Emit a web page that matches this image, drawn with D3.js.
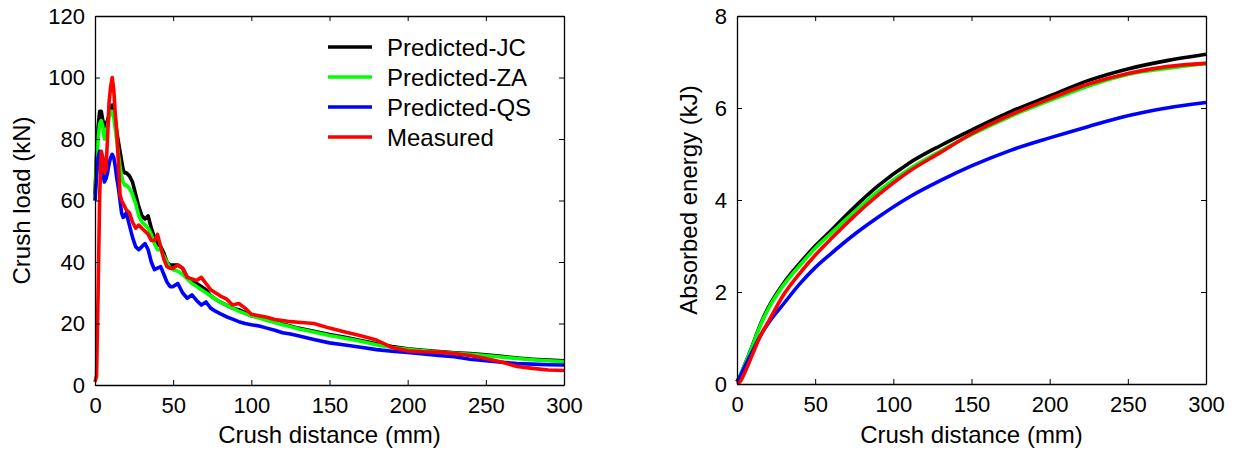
<!DOCTYPE html>
<html>
<head>
<meta charset="utf-8">
<script src="https://cdnjs.cloudflare.com/ajax/libs/d3/7.8.5/d3.min.js"></script>
<style>
  body { margin: 0; background: #fff; }
  text { font-family: "Liberation Sans", Arial, sans-serif; }
</style>
</head>
<body>
<svg id="chart" width="1239" height="453"></svg>
<script>
// ---------- DATA ----------
const seriesNames = ["Predicted-JC", "Predicted-ZA", "Predicted-QS", "Measured"];
const seriesColors = ["#000000", "#00ff00", "#0000ff", "#ff0000"];

const xTicks = [0, 50, 100, 150, 200, 250, 300];
const loadTicks = [0, 20, 40, 60, 80, 100, 120];
const energyTicks = [0, 2, 4, 6, 8];

// Crush load (kN) vs crush distance (mm)
const loadDist = [0,1,2,3,4,5,6,7,8,9,10,11,12,13,14,15,16,17,18,19,20,
  22,24,26,28,30,32,34,36,38,40,42,44,46,48,50,
  53,56,59,62,65,68,71,74,77,80,84,88,92,96,100,
  105,110,115,120,125,130,140,150,160,170,180,190,200,210,220,230,240,250,260,270,280,290,300];

const loadJC = [62,75,84,89,89,86,84,85,86,88,90,91,89,86,82,79,76,73,70,69,69,
  68,66,62,58,55,54,55,51,48,46,45,43,40,39,39,
  39,38,35,34,33,32,31,29,28,27,26,25,24.5,23.5,22.5,
  22,21.2,20.5,19.8,19.2,18.5,17.5,16.4,15.5,14.5,13.4,12.5,11.8,11.3,10.9,10.5,10.2,9.8,9.3,8.8,8.4,8.1,7.9];

const loadZA = [60,72,80,85,86,84,80,82,84,87,89,89,87,83,79,75,71,68,66,65,65,
  64,62,59,55,53,52,51,49,46,44,44,42,40,38,37.5,
  37,36,34.5,33,32,31,30,29,28,27,26,25,24,23.2,22.5,
  21.8,21,20.3,19.6,19,18.3,17.2,16.1,15.2,14.2,13.1,12.2,11.6,11.1,10.7,10.3,10.0,9.6,9.1,8.6,8.2,7.9,7.6];

const loadQS = [60,68,74,76,73,69,66,67,69,72,74,75,74,71,67,64,60,56,54.5,55,56,
  52,48,45,44,45,46,44,40,37.5,38,38.5,36,33.5,32,32,
  33,30,28.2,29.3,27.5,26,27,25,24,23.2,22.2,21.4,20.6,20,19.6,
  19.2,18.5,17.8,17,16.6,16,14.8,13.7,13,12.3,11.5,11,10.6,10.1,9.6,9.2,8.4,7.9,7.4,7,6.8,6.6,6.5];

const loadMeasured = [1,3,30,62,76,74,69,70,80,92,97,100,96,88,82,72,62,60,59,58,57,
  56,53,51,52,51,50,49,47,47,49,45,41,38.5,38,38,
  39,38,35,34.5,34,35,33,31,30,29,28,26,26.5,25,23,
  22.5,22,21.3,21,20.6,20.4,20,18.5,17.2,16,14.6,12.2,11.1,10.8,10.7,10.2,9.6,8.6,7.5,6,5.4,4.9,4.7];

// Absorbed energy (kJ) vs crush distance (mm)
const energyDist = [0,2,5,10,15,20,30,40,50,60,75,90,110,130,150,175,200,225,250,275,300];
const energyJC = [0.05,0.18,0.42,0.85,1.30,1.66,2.20,2.62,3.00,3.33,3.84,4.30,4.80,5.18,5.52,5.92,6.26,6.60,6.85,7.03,7.17];
const energyZA = [0.05,0.18,0.42,0.84,1.28,1.63,2.16,2.57,2.95,3.27,3.74,4.18,4.67,5.06,5.42,5.82,6.16,6.48,6.73,6.86,6.97];
const energyQS = [0.05,0.16,0.38,0.72,1.05,1.32,1.75,2.17,2.53,2.83,3.25,3.62,4.06,4.42,4.74,5.08,5.35,5.60,5.83,6.00,6.12];
const energyMeasured = [0,0.05,0.25,0.65,1.05,1.35,1.95,2.40,2.80,3.15,3.65,4.10,4.62,5.03,5.44,5.85,6.20,6.52,6.75,6.90,6.97];

// ---------- DRAW ----------
const svg = d3.select("#chart");
const TICK_FONT = 22;
const TITLE_FONT = 24;

function panel(opts) {
  const { left, right, top, bottom, yMax, yTicks, yLabel, ySeries, xs, yTitleX, curve } = opts;
  const x = d3.scaleLinear().domain([0, 300]).range([left, right]);
  const y = d3.scaleLinear().domain([0, yMax]).range([bottom, top]);
  const g = svg.append("g");

  [0, 1, 2, 3].forEach(i => {
    const pts = xs.map((d, k) => [d, ySeries[i][k]]);
    g.append("path")
      .datum(pts)
      .attr("fill", "none")
      .attr("stroke", seriesColors[i])
      .attr("stroke-width", 3.6)
      .attr("stroke-linejoin", "round")
      .attr("d", d3.line().curve(curve).x(d => x(d[0])).y(d => y(d[1])));
  });

  const axB = g.append("g").attr("transform", `translate(0,${bottom})`)
    .call(d3.axisBottom(x).tickValues(xTicks).tickSizeInner(-5).tickSizeOuter(0).tickPadding(12));
  const axT = g.append("g").attr("transform", `translate(0,${top})`)
    .call(d3.axisTop(x).tickValues(xTicks).tickSizeInner(-5).tickSizeOuter(0).tickFormat(""));
  const axL = g.append("g").attr("transform", `translate(${left},0)`)
    .call(d3.axisLeft(y).tickValues(yTicks).tickSizeInner(-5).tickSizeOuter(0).tickPadding(10));
  const axR = g.append("g").attr("transform", `translate(${right},0)`)
    .call(d3.axisRight(y).tickValues(yTicks).tickSizeInner(-5).tickSizeOuter(0).tickFormat(""));
  [axB, axT, axL, axR].forEach(a => {
    a.select(".domain").attr("stroke", "#000").attr("stroke-width", 1.3);
    a.selectAll(".tick line").attr("stroke", "#000").attr("stroke-width", 1);
    a.selectAll("text").attr("font-size", TICK_FONT).attr("fill", "#000")
      .attr("font-family", '"Liberation Sans", Arial, sans-serif');
  });

  g.append("text")
    .attr("x", (left + right) / 2).attr("y", 443)
    .attr("text-anchor", "middle").attr("font-size", TITLE_FONT)
    .text("Crush distance (mm)");
  g.append("text")
    .attr("transform", `translate(${yTitleX},${(top + bottom) / 2}) rotate(-90)`)
    .attr("text-anchor", "middle").attr("font-size", TITLE_FONT)
    .text(yLabel);
  return g;
}

panel({
  left: 95, right: 564, top: 16, bottom: 385, yMax: 120, yTicks: loadTicks,
  yLabel: "Crush load (kN)", ySeries: [loadJC, loadZA, loadQS, loadMeasured],
  xs: loadDist, yTitleX: 30, curve: d3.curveLinear
});
panel({
  left: 737, right: 1206, top: 16, bottom: 384, yMax: 8, yTicks: energyTicks,
  yLabel: "Absorbed energy (kJ)", ySeries: [energyJC, energyZA, energyQS, energyMeasured],
  xs: energyDist, yTitleX: 697, curve: d3.curveMonotoneX
});

// legend
const leg = svg.append("g");
seriesNames.forEach((name, i) => {
  const cy = 47 + i * 30;
  leg.append("line").attr("x1", 328).attr("x2", 372).attr("y1", cy).attr("y2", cy)
    .attr("stroke", seriesColors[i]).attr("stroke-width", 3.6);
  leg.append("text").attr("x", 387).attr("y", cy).attr("dy", "0.36em")
    .attr("font-size", TITLE_FONT).text(name);
});
</script>
</body>
</html>
